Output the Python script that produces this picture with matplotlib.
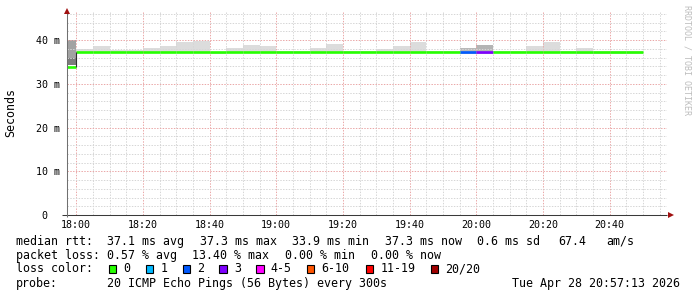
import matplotlib
matplotlib.use("Agg")
import matplotlib.pyplot as plt
from matplotlib.ticker import MultipleLocator, FuncFormatter

# ---------------- data ----------------
# end time of each 5-minute (300 s) step
step_end = ["18:00", "18:05", "18:10", "18:15", "18:20", "18:25", "18:30",
            "18:35", "18:40", "18:45", "18:50", "18:55", "19:00", "19:05",
            "19:10", "19:15", "19:20", "19:25", "19:30", "19:35", "19:40",
            "19:45", "19:50", "19:55", "20:00", "20:05", "20:10", "20:15",
            "20:20", "20:25", "20:30", "20:35", "20:40", "20:45", "20:50"]
# median rtt (ms)
median = [33.9, 37.2, 37.2, 37.2, 37.2, 37.2, 37.2, 37.2, 37.2, 37.2,
          37.2, 37.2, 37.2, 37.2, 37.2, 37.2, 37.2, 37.2, 37.2, 37.2,
          37.2, 37.2, 37.2, 37.2, 37.2, 37.2, 37.2, 37.2, 37.2, 37.2,
          37.2, 37.2, 37.3, 37.3, 37.3]
# smoke extent (ms)
smoke_hi = [40.0, 38.0, 38.7, 37.6, 37.7, 38.2, 38.7, 39.5, 39.8, 37.2,
            38.1, 38.9, 38.6, 37.5, 37.5, 38.2, 39.1, 37.4, 37.4, 37.9,
            38.6, 39.5, 37.4, 37.4, 38.2, 38.9, 37.4, 37.4, 38.6, 39.5,
            37.4, 38.2, 37.4, 37.4, 37.4]
smoke_lo = [34.3, 37.0, 37.0, 37.0, 37.0, 37.0, 37.0, 37.0, 37.0, 36.7,
            37.0, 37.0, 37.0, 37.0, 37.0, 37.0, 37.0, 37.0, 37.0, 37.0,
            37.0, 37.0, 37.0, 37.0, 36.8, 36.8, 37.0, 37.0, 37.0, 37.0,
            37.0, 36.8, 36.8, 36.8, 36.8]
# lost pings out of 20
loss = [0, 0, 0, 0, 0, 0, 0, 0, 0, 0, 0, 0, 0, 0, 0, 0, 0, 0, 0, 0,
        0, 0, 0, 0, 2, 3, 0, 0, 0, 0, 0, 0, 0, 0, 0]
# smoke shade of each step
smoke_shade = ["#a2a2a2"] + ["#dcdcdc"] * 23 + ["#b8b8b8", "#b4b4b4"] + ["#dcdcdc"] * 9
# darker core of the first step
core_lo, core_hi = 34.3, 35.8

loss_labels = ["0", "1", "2", "3", "4-5", "6-10", "11-19", "20/20"]
loss_colors = ["#26ff00", "#00b8ff", "#0059ff", "#7e00ff", "#ff00ff",
               "#ff5500", "#ff0000", "#a00000"]
loss_upper = [0, 1, 2, 3, 5, 10, 19, 20]

x_tick_labels = ["18:00", "18:20", "18:40", "19:00", "19:20", "19:40",
                 "20:00", "20:20", "20:40"]
y_tick_labels = {0: "0  ", 10: "10 m", 20: "20 m", 30: "30 m", 40: "40 m"}

start_time = "17:57:13"
end_time = "20:57:13"

legend_rows = [
    [("median rtt:", 16), ("37.1 ms avg", 107), ("37.3 ms max", 200),
     ("33.9 ms min", 292), ("37.3 ms now", 385), ("0.6 ms sd", 477),
     ("67.4", 558), ("am/s", 606)],
    [("packet loss:", 16), ("0.57 % avg", 107), ("13.40 % max", 192),
     ("0.00 % min", 285), ("0.00 % now", 371)],
]
probe_text = "20 ICMP Echo Pings (56 Bytes) every 300s"
date_text = "Tue Apr 28 20:57:13 2026"
watermark = "RRDTOOL / TOBI OETIKER"
ylabel = "Seconds"

# ---------------- helpers ----------------
def minutes(s):
    parts = [int(p) for p in s.split(":")]
    while len(parts) < 3:
        parts.append(0)
    return (parts[0] - 18) * 60 + parts[1] + parts[2] / 60.0

def loss_color(n):
    for up, c in zip(loss_upper, loss_colors):
        if n <= up:
            return c
    return loss_colors[-1]

W, H, DPI = 697, 297, 100
fig = plt.figure(figsize=(W / DPI, H / DPI), dpi=DPI)
fig.patch.set_facecolor("white")

px_l, px_r, px_b, px_t = 67, 667, 215, 12
ax = fig.add_axes([px_l / W, 1 - px_b / H, (px_r - px_l) / W, (px_b - px_t) / H])
ax.set_facecolor("white")

mono = "DejaVu Sans Mono"
ends = [minutes(s) for s in step_end]
starts = [e - 5 for e in ends]

# smoke
for s, lo, hi, c in zip(starts, smoke_lo, smoke_hi, smoke_shade):
    ax.bar(s, hi - lo, bottom=lo, width=5, align="edge", color=c,
           linewidth=0, zorder=2)
ax.bar(starts[0], core_hi - core_lo, bottom=core_lo, width=5, align="edge",
       color="#7c7c7c", linewidth=0, zorder=2)

# median line coloured by loss
for s, e, m, l in zip(starts, ends, median, loss):
    ax.hlines(m, s, e, colors=loss_color(l), linewidth=1.9,
              capstyle="butt", zorder=4)
ax.vlines(ends[0], median[0], median[1], colors="#303030", linewidth=0.8, zorder=4)

# axes ranges
ax.set_xlim(minutes(start_time), minutes(end_time))
ax.set_ylim(0, 46.4)

# grid
ax.xaxis.set_major_locator(MultipleLocator(20))
ax.xaxis.set_minor_locator(MultipleLocator(5))
ax.yaxis.set_major_locator(MultipleLocator(10))
ax.yaxis.set_minor_locator(MultipleLocator(2))
ax.grid(which="minor", color="#d6d6d6", linestyle=(0, (1.4, 1.4)), linewidth=0.72, zorder=3)
ax.grid(which="major", color="#eaa8a8", linestyle=(0, (1.4, 1.4)), linewidth=0.72, zorder=3)
ax.set_axisbelow(False)
for gl in ax.get_xgridlines() + ax.get_ygridlines():
    gl.set_zorder(3)

def xfmt(v, pos):
    lab = {minutes(t): t for t in x_tick_labels}
    for k, t in lab.items():
        if abs(k - v) < 1e-6:
            return t
    return ""

def yfmt(v, pos):
    return y_tick_labels.get(int(round(v)), "")

ax.xaxis.set_major_formatter(FuncFormatter(xfmt))
ax.yaxis.set_major_formatter(FuncFormatter(yfmt))
ax.tick_params(which="both", length=0)
ax.tick_params(axis="x", pad=3.6, labelsize=7.2, labelcolor="#000000")
ax.tick_params(axis="y", pad=5.0, labelsize=7.2, labelcolor="#000000")
for lab in ax.get_xticklabels() + ax.get_yticklabels():
    lab.set_fontfamily(mono)

for sp in ax.spines.values():
    sp.set_visible(False)

# axis lines with arrows
axis_col = "#3a3a3a"
arrow_col = "#a01010"
ax.plot([-0.009, 1.0], [0, 0], transform=ax.transAxes, color=axis_col,
        lw=0.75, clip_on=False, zorder=6, solid_capstyle="butt")
ax.plot([0, 0], [-0.01, 1.0], transform=ax.transAxes, color="#707070",
        lw=0.75, clip_on=False, zorder=6, solid_capstyle="butt")
ax.plot([1.006], [0], transform=ax.transAxes, marker=">", color=arrow_col,
        markersize=4, clip_on=False, zorder=7, markeredgewidth=0)
ax.plot([0], [1.005], transform=ax.transAxes, marker="^", color=arrow_col,
        markersize=4, clip_on=False, zorder=7, markeredgewidth=0)

# text helpers
def ftext(x, y, s, **kw):
    fig.text(x / W, 1 - y / H, s, **kw)

fs = 8.4
for row_i, row in enumerate(legend_rows):
    yy = 241.5 + 13.8 * row_i
    for s, xx in row:
        ftext(xx, yy, s, family=mono, fontsize=fs, va="center", ha="left")

# loss colour row
yy = 269.0
ftext(16, yy, "loss color:", family=mono, fontsize=fs, va="center", ha="left")
box_x = [108.7, 145.7, 182.7, 219.3, 256.3, 306.7, 365.7, 430.7]
for bx, lab, col in zip(box_x, loss_labels, loss_colors):
    fig.patches.append(plt.Rectangle((bx / W, 1 - (yy + 4) / H), 7.5 / W, 8 / H,
                                     transform=fig.transFigure, facecolor=col,
                                     edgecolor="black", linewidth=0.8))
    ftext(bx + 14.5, yy, lab, family=mono, fontsize=fs, va="center", ha="left")

yy = 283.0
ftext(16, yy, "probe:", family=mono, fontsize=fs, va="center", ha="left")
ftext(107, yy, probe_text, family=mono, fontsize=fs, va="center", ha="left")
ftext(680, yy, date_text, family=mono, fontsize=fs, va="center", ha="right")

# y label
ftext(11, 113, ylabel, family=mono, fontsize=fs, va="center", ha="center", rotation=90)

# watermark
ftext(687, 60, watermark, family=mono, fontsize=6.0, va="center", ha="center",
      rotation=270, color="#bdbdbd")

fig.savefig("out.png", dpi=DPI, facecolor="white")
